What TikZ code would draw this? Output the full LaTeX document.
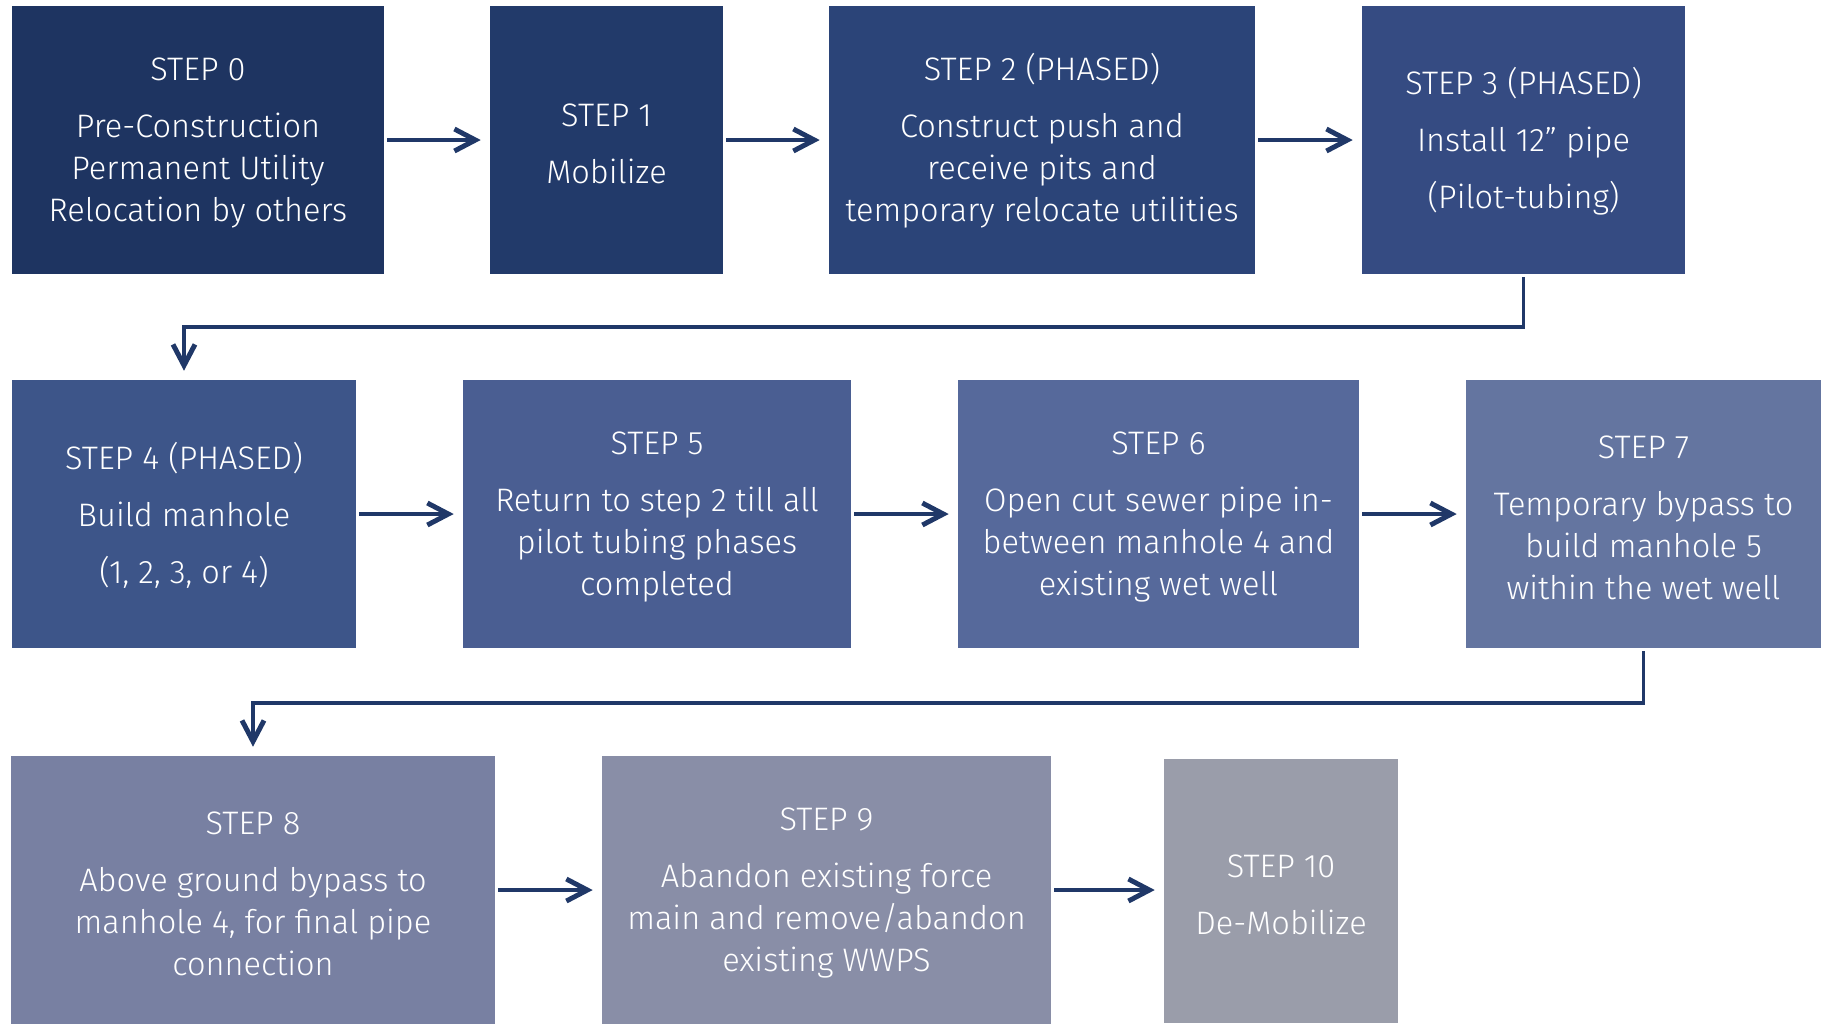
\documentclass[tikz,border=0pt]{standalone}
\usepackage{fontspec}
\IfFontExistsTF{Fira Sans Light}{\setmainfont{Fira Sans Light}}{\setmainfont{Fira Sans}}
\usepackage{tikz}
\usetikzlibrary{arrows.meta, positioning}
\definecolor{arrowblue}{RGB}{32, 56, 104}
\definecolor{stepA}{RGB}{30, 52, 97}
\definecolor{stepB}{RGB}{34, 58, 106}
\definecolor{stepC}{RGB}{43, 68, 120}
\definecolor{stepD}{RGB}{53, 75, 130}
\definecolor{stepE}{RGB}{61, 85, 137}
\definecolor{stepF}{RGB}{74, 94, 146}
\definecolor{stepG}{RGB}{86, 105, 155}
\definecolor{stepH}{RGB}{100, 117, 160}
\definecolor{stepI}{RGB}{120, 128, 162}
\definecolor{stepJ}{RGB}{137, 142, 167}
\definecolor{stepK}{RGB}{154, 157, 170}
\newcommand{\steptitle}[1]{\rule{0pt}{8.4pt}#1\\[4.25pt]}

\begin{document}
\begin{tikzpicture}[x=0.01cm, y=-0.01cm,
  stepbox/.style={rectangle, inner sep=0pt, text=white, align=center,
    minimum height=2.68cm, font=\fontsize{9.25pt}{11.95pt}\selectfont},
  flow/.style={-{Straight Barb[length=2.1mm, width=2.2mm, line width=1.4pt]},
    line width=1.1pt, draw=arrowblue, shorten <=0.025cm, shorten >=0.085cm}]
  \useasboundingbox (0,0) rectangle (1825,1023);

  % Row 1
  \node[stepbox, fill=stepA, minimum width=3.72cm] (s0) at (198, 140)
    {\steptitle{STEP 0}Pre-Construction\\Permanent Utility\\Relocation by others};
  \node[stepbox, fill=stepB, minimum width=2.33cm] (s1) at (606.5, 140)
    {\steptitle{STEP 1}Mobilize};
  \node[stepbox, fill=stepC, minimum width=4.26cm] (s2) at (1042, 140)
    {\steptitle{STEP 2 (PHASED)}Construct push and\\receive pits and\\temporary relocate utilities};
  \node[stepbox, fill=stepD, minimum width=3.23cm] (s3) at (1523.5, 140)
    {\steptitle{STEP 3 (PHASED)}Install 12” pipe\\[4.25pt](Pilot-tubing)};

  % Row 2
  \node[stepbox, fill=stepE, minimum width=3.44cm] (s4) at (184, 514)
    {\steptitle{STEP 4 (PHASED)}Build manhole\\[4.25pt](1, 2, 3, or 4)};
  \node[stepbox, fill=stepF, minimum width=3.88cm] (s5) at (657, 514)
    {\steptitle{STEP 5}Return to step 2 till all\\pilot tubing phases\\completed};
  \node[stepbox, fill=stepG, minimum width=4.01cm] (s6) at (1158.5, 514)
    {\steptitle{STEP 6}Open cut sewer pipe in-\\between manhole 4 and\\existing wet well};
  \node[stepbox, fill=stepH, minimum width=3.55cm] (s7) at (1643.5, 514)
    {\steptitle{STEP 7}Temporary bypass to\\build manhole 5\\within the wet well};

  % Row 3
  \node[stepbox, fill=stepI, minimum width=4.83cm] (s8) at (253, 890)
    {\steptitle{STEP 8}Above ground bypass to\\manhole 4, for final pipe\\connection};
  \node[stepbox, fill=stepJ, minimum width=4.49cm] (s9) at (826.5, 890)
    {\steptitle{STEP 9}Abandon existing force\\main and remove/abandon\\existing WWPS};
  \node[stepbox, fill=stepK, minimum width=2.34cm, minimum height=2.64cm] (s10) at (1281, 891)
    {\steptitle{STEP 10}De-Mobilize};

  % Arrows
  \draw[flow] (s0) -- (s1);
  \draw[flow] (s1) -- (s2);
  \draw[flow] (s2) -- (s3);
  \draw[flow] (s3.south) -- ++(0,-0.52cm) -| (s4.north);
  \draw[flow] (s4) -- (s5);
  \draw[flow] (s5) -- (s6);
  \draw[flow] (s6) -- (s7);
  \draw[flow] (s7.south) -- ++(0,-0.54cm) -| (s8.north);
  \draw[flow] (s8) -- (s9);
  \draw[flow] (s9.east) -- (s9.east -| s10.west);
\end{tikzpicture}
\end{document}
